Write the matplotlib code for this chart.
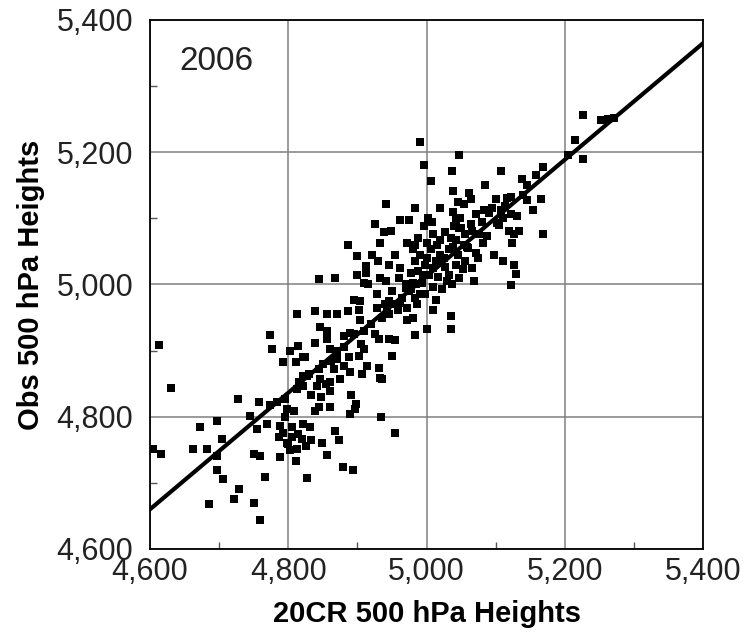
import matplotlib
matplotlib.use("Agg")
import matplotlib.pyplot as plt
from matplotlib.ticker import MultipleLocator, FuncFormatter

plt.rcParams["font.family"] = ["Liberation Sans", "DejaVu Sans"]

# 20CR 500 hPa heights (x) vs observed 500 hPa heights (y), 2006
reanalysis_hgt = [
    4990, 5047, 4997, 5037, 5006, 5038, 4941, 4984, 5019, 5046,
    4925, 4962, 4974, 5002, 4996, 5008, 4938, 4948, 4887, 4932,
    4972, 4984, 5000, 5226, 5252, 5262, 5271, 5215, 5226, 5107,
    5169, 5158, 5138, 5146, 5085, 5061, 5065, 5100, 5116, 5122,
    5139, 5146, 5165, 5054, 5154, 5071, 5083, 5090, 5107, 5114,
    5122, 5131, 5039, 5047, 5066, 5076, 5088, 5102, 5110, 5119,
    5126, 5134, 5168, 5124, 5054, 5081, 5038, 5049, 5042, 5204,
    5071, 5097, 5111, 5126, 5130, 5122, 5066, 5047, 5068, 5037,
    5035, 5035, 5038, 5046, 5055, 5042, 5058, 5052, 4900, 4921,
    4912, 4912, 4844, 4868, 4900, 4909, 4933, 4941, 4962, 4977,
    4928, 4945, 4895, 4904, 4839, 4856, 4871, 4887, 4902, 4904,
    4928, 4943, 4962, 4972, 4986, 5010, 5001, 4983, 4846, 4856,
    4880, 4890, 4931, 4945, 4955, 4950, 4909, 4902, 4839, 4822,
    4856, 4861, 4871, 4880, 4866, 4890, 4907, 4914, 4931, 4933,
    4846, 4861, 4827, 4875, 4830, 4850, 4870, 4880, 4895, 4910,
    4920, 4935, 4945, 4955, 4965, 4975, 4985, 4990, 4970, 4950,
    4940, 4925, 4905, 4888, 4862, 4845, 4980, 4991, 5006, 5020,
    5032, 4984, 4998, 5013, 5027, 4988, 5003, 5017, 5032, 4994,
    5009, 5023, 4977, 4984, 4998, 5013, 4970, 5020, 5009, 5027,
    4988, 5042, 5056, 5064, 4981, 4959, 4972, 4981, 4613, 4630,
    4774, 4776, 4813, 4803, 4814, 4792, 4811, 4824, 4822, 4815,
    4728, 4757, 4774, 4784, 4796, 4813, 4822, 4745, 4697, 4673,
    4755, 4769, 4798, 4808, 4788, 4793, 4822, 4704, 4786, 4798,
    4805, 4820, 4825, 4813, 4803, 4605, 4616, 4662, 4683, 4697,
    4750, 4759, 4788, 4811, 4827, 4697, 4705, 4766, 4729, 4722,
    4686, 4750, 4759, 4796, 4806, 4814, 4800, 4842, 4854, 4861,
    4936, 4891, 4898, 4897, 4839, 4844, 4861, 4890, 4934, 4955,
    4831, 4867, 4873, 4833, 4849, 4856, 4879, 4894, 4833, 4848,
    5000, 5010, 5025, 5035, 5050, 5015, 4995, 5030, 4960, 4945,
    4930, 4915, 4955, 5060, 5080, 5095, 5105, 5075,
]
observed_hgt = [
    5215, 5196, 5180, 5171, 5156, 5142, 5122, 5116, 5116, 5124,
    5092, 5097, 5097, 5101, 5088, 5094, 5079, 5081, 5060, 5063,
    5062, 5059, 5062, 5256, 5249, 5250, 5252, 5218, 5190, 5172,
    5177, 5166, 5160, 5151, 5150, 5138, 5129, 5130, 5131, 5133,
    5136, 5128, 5130, 5122, 5112, 5106, 5113, 5108, 5113, 5118,
    5106, 5103, 5088, 5086, 5081, 5076, 5073, 5093, 5101, 5081,
    5076, 5081, 5077, 5063, 5060, 5063, 5110, 5101, 5098, 5196,
    5048, 5044, 5035, 5030, 5016, 4999, 5025, 5010, 5006, 5000,
    4952, 4932, 5056, 5045, 5035, 5030, 5056, 5023, 5043, 5045,
    5028, 5018, 5008, 5010, 5014, 5003, 5010, 5005, 5025, 5018,
    4985, 4975, 4977, 4975, 4960, 4956, 4956, 4960, 4962, 4947,
    4965, 4960, 4972, 4965, 4970, 4962, 4932, 4924, 4935, 4930,
    4922, 4927, 4917, 4918, 4916, 4892, 4902, 4892, 4912, 4890,
    4917, 4902, 4887, 4877, 4872, 4867, 4864, 4877, 4874, 4859,
    4857, 4852, 4862, 4857, 4865, 4880, 4900, 4905, 4925, 4930,
    4940, 4950, 4955, 4970, 4980, 4990, 5000, 4985, 4995, 4990,
    4970, 4925, 4910, 4890, 4885, 4872, 5053, 5045, 5053, 5045,
    5053, 5035, 5030, 5035, 5026, 5020, 5015, 5011, 5015, 5003,
    4996, 4993, 4993, 4980, 4985, 4977, 5000, 5068, 5076, 5080,
    5071, 5068, 5076, 5091, 5003, 4962, 4947, 4950, 4908, 4844,
    4923, 4902, 4956, 4900, 4907, 4883, 4883, 4890, 4862, 4852,
    4827, 4822, 4817, 4822, 4827, 4842, 4847, 4801, 4794, 4785,
    4781, 4789, 4811, 4809, 4786, 4776, 4789, 4766, 4769, 4761,
    4769, 4766, 4756, 4751, 4749, 4751, 4744, 4751, 4751, 4741,
    4744, 4740, 4739, 4733, 4707, 4720, 4706, 4709, 4690, 4675,
    4668, 4669, 4644, 4799, 4784, 4774, 4759, 4847, 4849, 4839,
    4857, 4833, 4819, 4811, 4809, 4814, 4814, 4804, 4800, 4775,
    4784, 4778, 4765, 4765, 4761, 4742, 4724, 4720, 4833, 4830,
    5040, 5025, 5040, 5070, 5085, 5060, 5015, 5005, 5010, 5030,
    5035, 5000, 5045, 5055, 5095, 5115, 5090, 5040,
]

# least-squares line as drawn in the original
fit_x = [4600, 5400]
fit_y = [4660, 5365]

year_label = "2006"
x_title = "20CR 500 hPa Heights"
y_title = "Obs 500 hPa Heights"

fig = plt.figure(figsize=(7.48, 6.38), dpi=100)
ax = fig.add_axes([0.2005, 0.1395, 0.7395, 0.8292])

ax.plot(reanalysis_hgt, observed_hgt, "s", color="black", markersize=5.7,
        markeredgewidth=0, zorder=3)
ax.plot(fit_x, fit_y, color="black", linewidth=3.0, zorder=4)

ax.set_xlim(4600, 5400)
ax.set_ylim(4600, 5400)
ax.xaxis.set_major_locator(MultipleLocator(200))
ax.yaxis.set_major_locator(MultipleLocator(200))
ax.xaxis.set_minor_locator(MultipleLocator(100))
ax.yaxis.set_minor_locator(MultipleLocator(100))
comma = FuncFormatter(lambda v, _: f"{int(v):,}")
ax.xaxis.set_major_formatter(comma)
ax.yaxis.set_major_formatter(comma)

ax.grid(True, which="major", color="#808080", linewidth=1.1, zorder=1)
ax.set_axisbelow(True)
ax.tick_params(which="major", length=0, labelsize=22, colors="#222222")
ax.tick_params(axis="y", which="major", pad=12)
ax.tick_params(axis="x", which="major", pad=6)
ax.tick_params(which="minor", direction="in", length=5, width=1, color="#555555")
for spine in ax.spines.values():
    spine.set_linewidth(1.3)
    spine.set_color("black")

ax.text(4643, 5337, year_label, fontsize=24, va="center", ha="left", color="#222222")

ax.set_xlabel(x_title, fontsize=21, fontweight="bold", labelpad=9)
ax.set_ylabel(y_title, fontsize=21, fontweight="bold", labelpad=8)

fig.savefig("out.png", dpi=100)
